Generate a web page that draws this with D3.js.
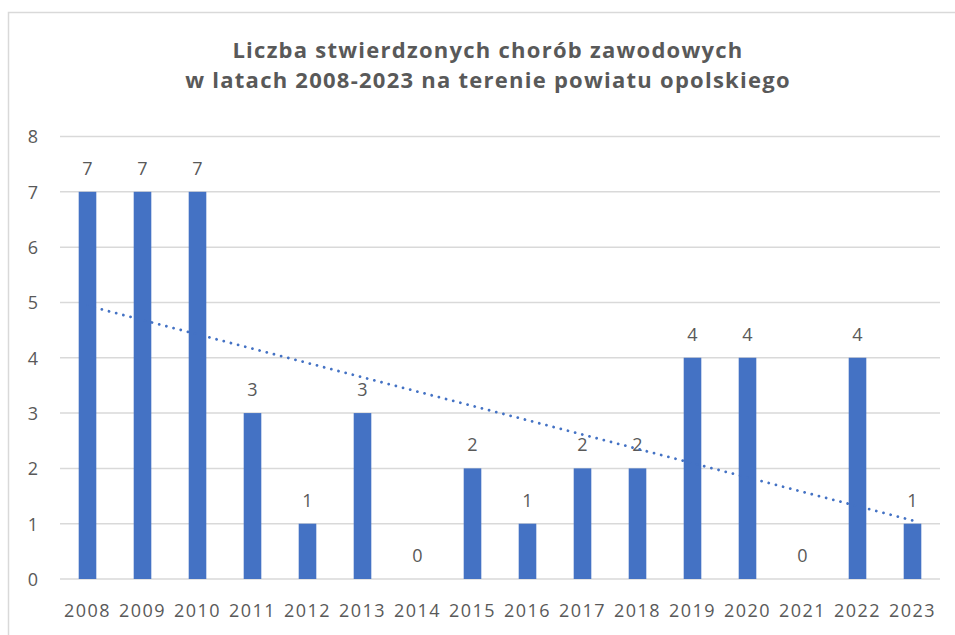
<!DOCTYPE html>
<html>
<head>
<meta charset="utf-8">
<script src="https://cdn.jsdelivr.net/npm/d3@7"></script>
<style>
  body { margin: 0; background: #fff; }
  svg { display: block; }
</style>
</head>
<body>
<svg></svg>
<script>
// data
var years = ['2008', '2009', '2010', '2011', '2012', '2013', '2014', '2015',
  '2016', '2017', '2018', '2019', '2020', '2021', '2022', '2023'];
var cases = [7, 7, 7, 3, 1, 3, 0, 2, 1, 2, 2, 4, 4, 0, 4, 1];
var yTicks = [0, 1, 2, 3, 4, 5, 6, 7, 8];
var titleLines = ['Liczba stwierdzonych chorób zawodowych',
  'w latach 2008-2023 na terenie powiatu opolskiego'];

var svgWidth = 955, svgHeight = 635;
var plotLeft = 60, plotRight = 940, plotTop = 136.5, plotBottom = 579;
var blue = '#4472C4', grey = '#595959', gridColor = '#d9d9d9';

var svg = d3.select('svg')
.attr('width', svgWidth)
.attr('height', svgHeight);

// chart frame (only top and left edges are visible)
svg.append('rect')
.attr('x', 8.5).attr('y', 12.5)
.attr('width', 1000).attr('height', 1000)
.attr('fill', 'none')
.attr('stroke', gridColor)
.attr('stroke-width', 1.5);

var xScale = d3.scaleBand()
.domain(years)
.range([plotLeft, plotRight])
.paddingInner(0.68)
.paddingOuter(0.34);

var yScale = d3.scaleLinear()
.domain([0, 8])
.range([plotBottom, plotTop]);

// gridlines
svg.append('g')
.selectAll('line')
.data(yTicks)
.enter()
.append('line')
.attr('x1', plotLeft).attr('x2', plotRight)
.attr('y1', function(d){ return yScale(d); })
.attr('y2', function(d){ return yScale(d); })
.attr('stroke', gridColor)
.attr('stroke-width', 1.5);

// y axis labels
var y_axis = d3.axisLeft(yScale)
.tickValues(yTicks)
.tickSize(0)
.tickPadding(0);

var yG = svg.append('g')
.attr('transform', 'translate(38, 0)')
.call(y_axis);
yG.select('.domain').remove();
yG.selectAll('text')
.attr('fill', grey)
.attr('dy', '0.36em')
.style('font-family', 'Open Sans')
.style('font-size', '18px');

// x axis labels
var x_axis = d3.axisBottom(xScale)
.tickSize(0)
.tickPadding(0);

var xG = svg.append('g')
.attr('transform', 'translate(0, 604)')
.call(x_axis);
xG.select('.domain').remove();
xG.selectAll('text')
.attr('fill', grey)
.attr('dy', '0.72em')
.style('font-family', 'Open Sans')
.style('font-size', '18px')
.style('letter-spacing', '1.4px');

// bars
svg.append('g')
.selectAll('rect')
.data(cases)
.enter()
.append('rect')
.attr('x', function(d, i){ return xScale(years[i]); })
.attr('y', function(d){ return yScale(d); })
.attr('width', xScale.bandwidth())
.attr('height', function(d){ return yScale(0) - yScale(d); })
.attr('fill', blue);

// value labels
svg.append('g')
.selectAll('text')
.data(cases)
.enter()
.append('text')
.attr('x', function(d, i){ return xScale(years[i]) + xScale.bandwidth() / 2; })
.attr('y', function(d){ return yScale(d) - 17; })
.attr('text-anchor', 'middle')
.attr('fill', grey)
.style('font-family', 'Open Sans')
.style('font-size', '18px')
.text(function(d){ return d; });

// linear trendline (least squares over the bars)
var n = cases.length;
var xs = d3.range(1, n + 1);
var mx = d3.mean(xs), my = d3.mean(cases);
var slope = d3.sum(xs, function(x, i){ return (x - mx) * (cases[i] - my); }) /
  d3.sum(xs, function(x){ return (x - mx) * (x - mx); });
var trend = [1, n].map(function(x){ return [x, my + slope * (x - mx)]; });

var line = d3.line()
.x(function(d){ return xScale(years[d[0] - 1]) + xScale.bandwidth() / 2; })
.y(function(d){ return yScale(d[1]); });

svg.append('path')
.datum(trend)
.attr('d', line)
.attr('fill', 'none')
.attr('stroke', blue)
.attr('stroke-width', 2.8)
.attr('stroke-linecap', 'round')
.attr('stroke-dasharray', '0.01 7.4');

// title
svg.append('g')
.selectAll('text')
.data(titleLines)
.enter()
.append('text')
.attr('x', 488)
.attr('y', function(d, i){ return 58 + i * 30; })
.attr('text-anchor', 'middle')
.attr('fill', grey)
.style('font-family', 'Open Sans')
.style('font-weight', 'bold')
.style('font-size', '22px')
.style('letter-spacing', '1.25px')
.text(function(d){ return d; });
</script>
</body>
</html>
